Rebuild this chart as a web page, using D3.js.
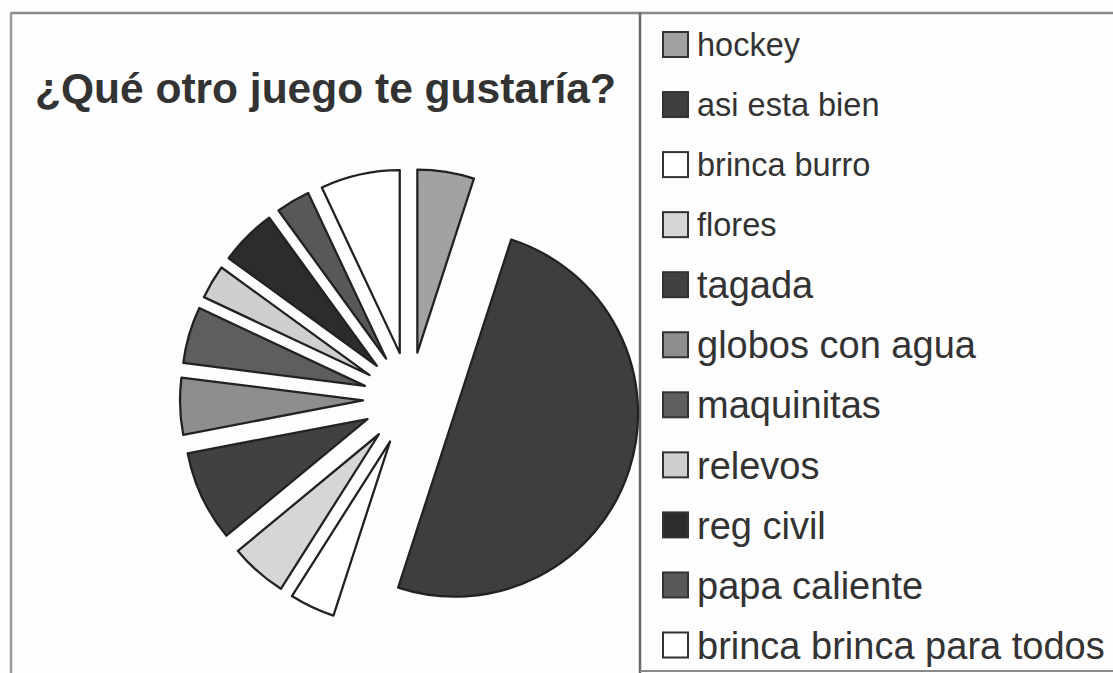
<!DOCTYPE html>
<html>
<head>
<meta charset="utf-8">
<script src="https://cdnjs.cloudflare.com/ajax/libs/d3/7.8.5/d3.min.js"></script>
<style>
  html, body { margin: 0; padding: 0; background: #fdfdfd; }
  svg { display: block; }
</style>
</head>
<body>
<svg id="chart" width="1113" height="673"></svg>
<script>
const categories = ["hockey", "asi esta bien", "brinca burro", "flores", "tagada",
  "globos con agua", "maquinitas", "relevos", "reg civil", "papa caliente",
  "brinca brinca para todos"];
const values = [5, 50, 4, 5, 8, 5, 5, 3, 5, 3, 7];
const colors = ["#a2a2a2", "#3e3e3e", "#ffffff", "#d6d6d6", "#414141",
  "#8e8e8e", "#5e5e5e", "#cfcfcf", "#2c2c2c", "#585858", "#ffffff"];
const legendSizes = [32.5, 32.5, 32.5, 32.5, 38, 38, 38, 38, 38, 38, 38];
const title = "¿Qué otro juego te gustaría?";

const svg = d3.select("#chart");

// frame
svg.append("line").attr("x1", 11).attr("x2", 1113).attr("y1", 13).attr("y2", 13)
  .attr("stroke", "#8a8a8a").attr("stroke-width", 2.5);
svg.append("line").attr("x1", 11).attr("x2", 11).attr("y1", 12).attr("y2", 673)
  .attr("stroke", "#9a9a9a").attr("stroke-width", 2.5);
svg.append("line").attr("x1", 640).attr("x2", 640).attr("y1", 12).attr("y2", 673)
  .attr("stroke", "#6a6a6a").attr("stroke-width", 2.5);
svg.append("line").attr("x1", 640).attr("x2", 1113).attr("y1", 671).attr("y2", 671)
  .attr("stroke", "#8a8a8a").attr("stroke-width", 2);

// title
svg.append("text").attr("x", 35).attr("y", 103)
  .attr("font-family", "Liberation Sans, Arial, sans-serif")
  .attr("font-weight", "bold").attr("font-size", 42.5)
  .attr("fill", "#333").text(title);

// pie
const cx = 410, cy = 399, r = 183, explode = 47;
const pie = d3.pie().sort(null).value(d => d)(values);
const arc = d3.arc().innerRadius(0).outerRadius(r);
const g = svg.append("g").attr("transform", `translate(${cx},${cy})`);
g.selectAll("path").data(pie).join("path")
  .attr("d", arc)
  .attr("transform", d => {
    const a = (d.startAngle + d.endAngle) / 2;
    return `translate(${explode * Math.sin(a)},${-explode * Math.cos(a)})`;
  })
  .attr("fill", (d, i) => colors[i])
  .attr("stroke", "#222").attr("stroke-width", 2.3).attr("stroke-linejoin", "round");

// legend
const ly = d3.scalePoint().domain(categories).range([44.5, 645]);
const lg = svg.append("g");
const items = lg.selectAll("g").data(categories).join("g")
  .attr("transform", d => `translate(0,${ly(d)})`);
items.append("rect").attr("x", 663).attr("y", -12.5).attr("width", 25).attr("height", 25)
  .attr("fill", (d, i) => colors[i]).attr("stroke", "#333").attr("stroke-width", 2);
items.append("text").attr("x", 697).attr("y", 0).attr("dy", "0.36em")
  .attr("font-family", "Liberation Sans, Arial, sans-serif")
  .attr("font-size", (d, i) => legendSizes[i])
  .attr("fill", "#333").text(d => d);
</script>
</body>
</html>
